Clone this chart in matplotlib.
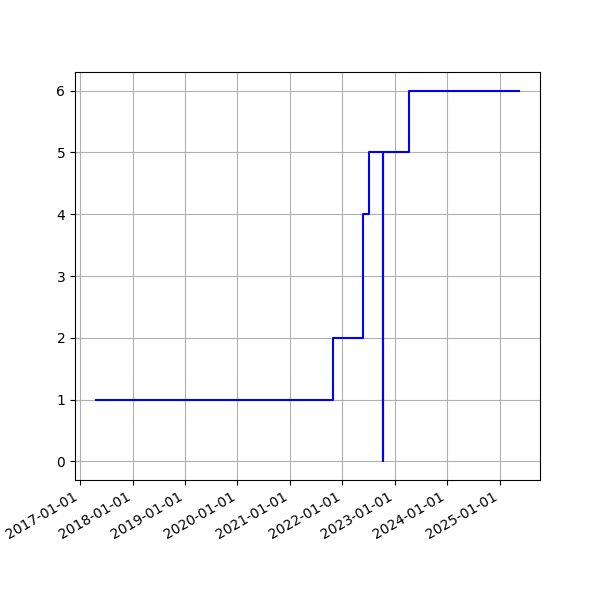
import matplotlib
matplotlib.use("Agg")
import matplotlib.pyplot as plt
import matplotlib.dates as mdates
import numpy as np
import pandas as pd

# step data
dates = pd.to_datetime([
    "2017-04-22",
    "2021-10-31",
    "2022-05-26",
    "2022-07-06",
    "2022-10-12",
    "2022-10-13",
    "2023-04-10",
    "2025-05-14",
])
values = [1, 2, 4, 5, 0, 5, 6, 6]

fig, ax = plt.subplots(figsize=(6, 6), dpi=100)
ax.plot(dates, values, drawstyle="steps-post", color="blue")
ax.grid(True)
ax.xaxis.set_major_locator(mdates.YearLocator())
ax.xaxis.set_major_formatter(mdates.DateFormatter("%Y-%m-%d"))
fig.autofmt_xdate()

fig.savefig("out.png")
